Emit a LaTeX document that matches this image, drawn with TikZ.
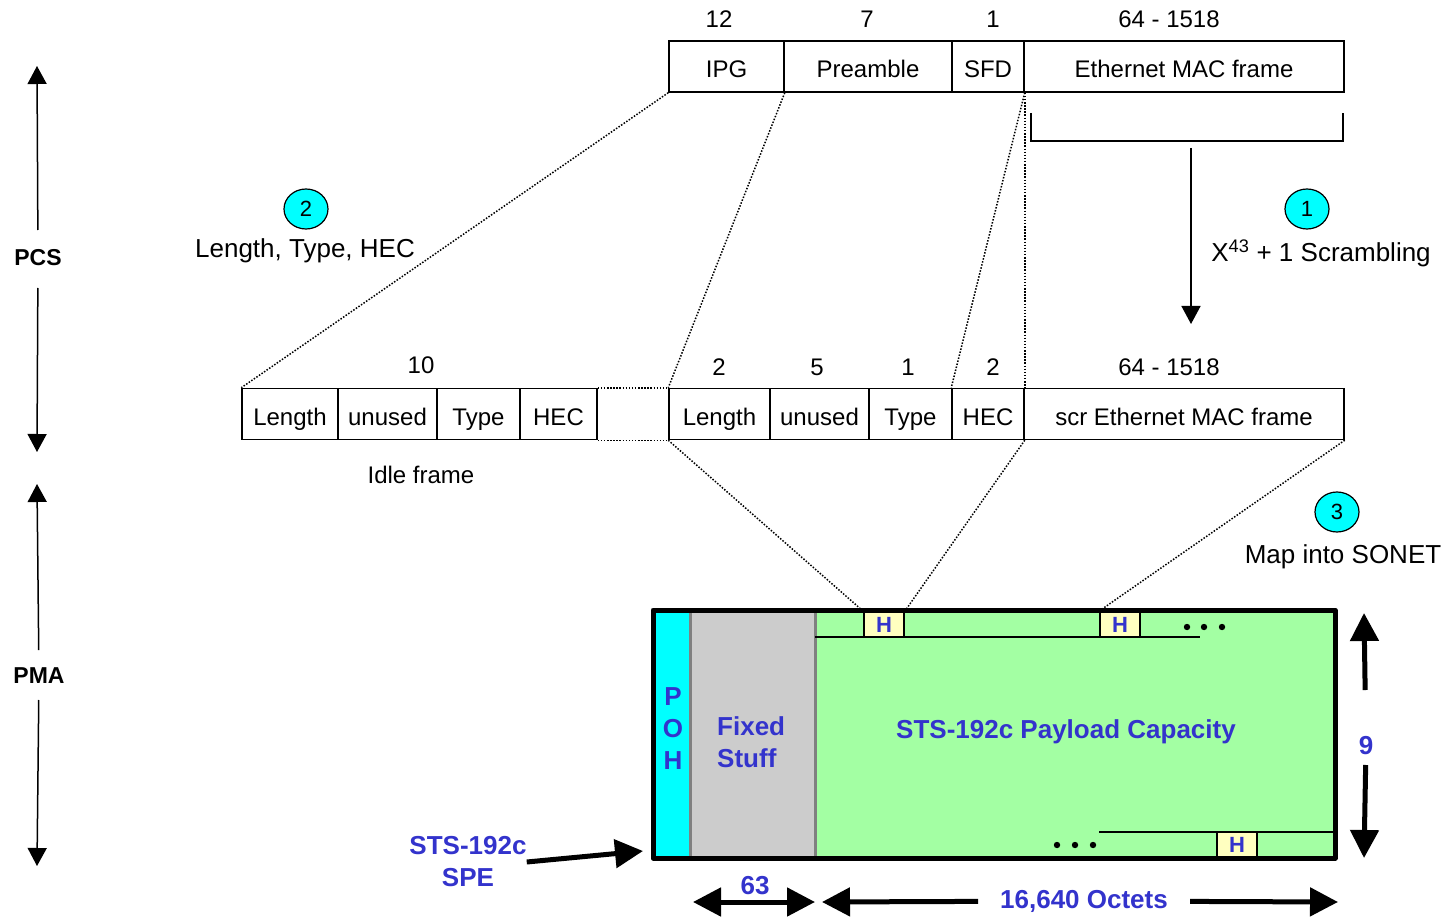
\documentclass[tikz,border=0pt]{standalone}
\usepackage{fontspec}
\setmainfont{Liberation Sans}
\usetikzlibrary{arrows.meta,shapes.geometric}
\definecolor{pohcyan}{HTML}{00FFFF}
\definecolor{stuffgray}{HTML}{CCCCCC}
\definecolor{payloadgreen}{HTML}{A3FFA3}
\definecolor{hyellow}{HTML}{FFFFC0}
\definecolor{sonetblue}{HTML}{3333CC}

\begin{document}
\begin{tikzpicture}[x=1pt, y=-1pt]
    \tikzstyle{cell} = [draw, line width=1.5pt, inner sep=0pt, minimum height=51pt, text height=26pt, text depth=4pt, font=\fontsize{24}{28}\selectfont]
    \tikzstyle{num} = [inner sep=0pt, font=\fontsize{24}{28}\selectfont]
    \tikzstyle{note} = [inner sep=0pt, font=\fontsize{26}{30}\selectfont]
    \tikzstyle{stepmark} = [ellipse, draw, line width=1.2pt, fill=pohcyan, inner sep=0pt, minimum width=44pt, minimum height=40pt, font=\fontsize{22}{26}\selectfont]
    \tikzstyle{layer} = [inner sep=0pt, font=\fontsize{23}{27}\selectfont\bfseries]
    \tikzstyle{blue} = [inner sep=0pt, text=sonetblue, font=\fontsize{26}{32}\selectfont\bfseries]
    \tikzstyle{hbox} = [draw, line width=1.8pt, fill=hyellow, inner sep=0pt, minimum width=40pt, text=sonetblue, font=\fontsize{22}{26}\selectfont\bfseries]
    \tikzstyle{dotline} = [line width=1.5pt, dash pattern=on 1.5pt off 1.6pt]
    \tikzstyle{thinarrow} = [line width=1.5pt, -{Triangle[length=18pt, width=19pt]}]
    \tikzstyle{fatarrow} = [line width=5pt, -{Triangle[length=28pt, width=28pt]}]

    \useasboundingbox (0,0) rectangle (1448,917);

    % Ethernet frame
    \node[cell, minimum width=115pt] (ipg) at (726.5,66.5) {IPG};
    \node[cell, minimum width=168pt] (pre) at (868,66.5) {Preamble};
    \node[cell, minimum width=72pt] (sfd) at (988,66.5) {SFD};
    \node[cell, minimum width=320pt] (mac) at (1184,66.5) {Ethernet MAC frame};
    \node[num] (n12) at (719,19) {12};
    \node[num] (n7) at (867,19) {7};
    \node[num] (n1) at (993,19) {1};
    \node[num] (nmac) at (1169,19) {64 - 1518};

    % Scrambling
    \draw[line width=1.5pt] (1031,113) -- (1031,141) -- (1343,141) -- (1343,113);
    \coordinate (brk) at (1191,141);
    \coordinate (scrtip) at (1191,324);
    \draw[thinarrow, shorten <=7pt] (brk) -- (scrtip);
    \node[stepmark] (s1) at (1307,209) {1};
    \node[note] (scr) at (1321,253) {X\textsuperscript{43} + 1 Scrambling};

    % GFP frames
    \node[cell, minimum width=96pt] (lena) at (290,414) {Length};
    \node[cell, minimum width=99pt] (unua) at (387.5,414) {unused};
    \node[cell, minimum width=83pt] (typa) at (478.5,414) {Type};
    \node[cell, minimum width=77pt] (heca) at (558.5,414) {HEC};
    \node[cell, minimum width=101pt] (lenb) at (719.5,414) {Length};
    \node[cell, minimum width=99pt] (unub) at (819.5,414) {unused};
    \node[cell, minimum width=83pt] (typb) at (910.5,414) {Type};
    \node[cell, minimum width=72pt] (hecb) at (988,414) {HEC};
    \node[cell, minimum width=320pt] (smac) at (1184,414) {scr Ethernet MAC frame};
    \node[num] (n10) at (421,365) {10};
    \node[num] (m2) at (719,367) {2};
    \node[num] (m5) at (817,367) {5};
    \node[num] (m1) at (908,367) {1};
    \node[num] (m2b) at (993,367) {2};
    \node[num] (mmac) at (1169,367) {64 - 1518};
    \node[num] (idle) at (421,475) {Idle frame};
    \draw[dotline] (heca.north east) -- (lenb.north west);
    \draw[dotline] (heca.south east) -- (lenb.south west);

    \node[stepmark] (s2) at (306,209) {2};
    \node[note] (lth) at (305,251) {Length, Type, HEC};

    % Mapping lines
    \draw[dotline] (ipg.south west) -- (lena.north west);
    \draw[dotline] (ipg.south east) -- (lenb.north west);
    \draw[dotline] (sfd.south east) -- (hecb.north west);
    \draw[dotline] (sfd.south east) -- (hecb.north east);

    % SONET SPE
    \fill[pohcyan] (653,610) rectangle (690,858);
    \fill[stuffgray] (690,610) rectangle (815,858);
    \fill[payloadgreen] (815,610) rectangle (1335,858);
    \draw[gray, line width=3pt] (690,610) -- (690,858);
    \draw[gray, line width=3pt] (815,610) -- (815,858);
    \draw[line width=2pt] (815,637) -- (1200,637);
    \draw[line width=2pt] (1099,832) -- (1335,832);
    \node[hbox, minimum height=25pt] (h1) at (884,624.5) {H};
    \node[hbox, minimum height=25pt] (h2) at (1120,624.5) {H};
    \node[hbox, minimum height=26pt] (h3) at (1237,845) {H};
    \foreach \x in {1187,1204,1222} \fill (\x,627) circle (3.2pt);
    \foreach \x in {1057,1075,1093} \fill (\x,845) circle (3.2pt);
    \draw[line width=5pt, line join=round] (653,610) rectangle (1335,858);
    \node[blue, align=center] (poh) at (673,729) {P\\O\\H};
    \node[blue, align=left, anchor=west] (fix) at (717,742) {Fixed\\Stuff};
    \node[blue] (pay) at (1066,732) {STS-192c Payload Capacity};

    \draw[dotline] (lenb.south west) -- (h1.north west);
    \draw[dotline] (hecb.south east) -- (h1.north east);
    \draw[dotline] (smac.south east) -- (h2.north west);

    \node[stepmark] (s3) at (1337,512) {3};
    \node[note] (map) at (1343,557) {Map into SONET};

    % Dimensions
    \node[blue] (nine) at (1366,746) {9};
    \coordinate (ntop) at (1364,613);
    \coordinate (nbot) at (1364,858);
    \draw[fatarrow, shorten <=56pt] (nine.center) -- (ntop);
    \draw[fatarrow, shorten <=19pt] (nine.center) -- (nbot);
    \node[blue] (w63) at (755,886) {63};
    \coordinate (a63) at (693,902);
    \coordinate (b63) at (815,902);
    \draw[fatarrow, {Triangle[length=28pt, width=28pt]}-{Triangle[length=28pt, width=28pt]}] (a63) -- (b63);
    \node[blue] (oct) at (1084,901) {16,640 Octets};
    \coordinate (octl) at (822,902);
    \coordinate (octr) at (1338,902);
    \draw[fatarrow, shorten <=106pt] (oct.center) -- (octl);
    \draw[fatarrow, shorten <=106pt] (oct.center) -- (octr);
    \node[blue, align=center] (spe) at (468,862) {STS-192c\\SPE};
    \coordinate (spetip) at (643,851);
    \draw[fatarrow] (spe.east) -- (spetip);

    % Layers
    \node[layer] (pcs) at (38,258) {PCS};
    \coordinate (pcstop) at (37,66);
    \coordinate (pcsbot) at (37,452);
    \draw[thinarrow, shorten <=28pt] (pcs.center) -- (pcstop);
    \draw[thinarrow, shorten <=30pt] (pcs.center) -- (pcsbot);
    \node[layer] (pma) at (39,676) {PMA};
    \coordinate (pmatop) at (37,484);
    \coordinate (pmabot) at (37,866);
    \draw[thinarrow, shorten <=26pt] (pma.center) -- (pmatop);
    \draw[thinarrow, shorten <=24pt] (pma.center) -- (pmabot);

\end{tikzpicture}
\end{document}
